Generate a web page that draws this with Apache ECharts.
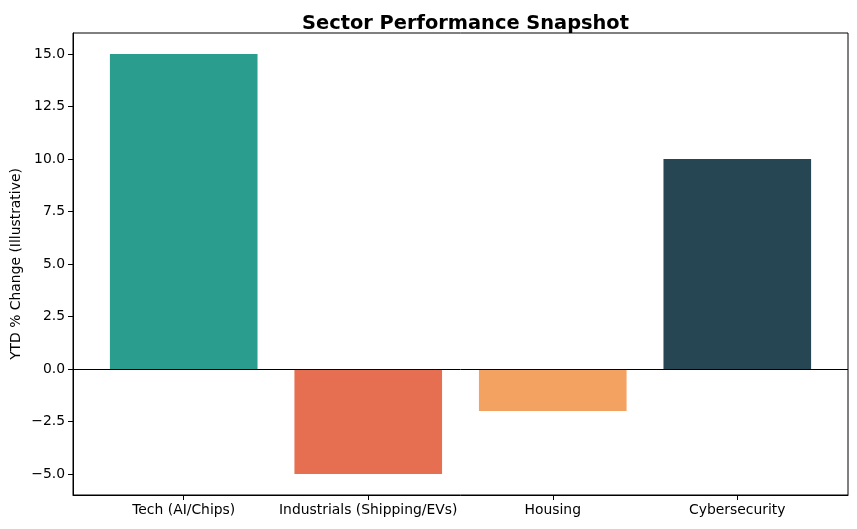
<!DOCTYPE html>
<html>
<head>
<meta charset="utf-8">
<script src="https://cdn.jsdelivr.net/npm/echarts@6/dist/echarts.min.js"></script>
<style>html,body{margin:0;padding:0;background:#fff}#c{width:857px;height:529px}</style>
</head>
<body>
<div id="c"></div>
<script>
const categories = ['Tech (AI/Chips)', 'Industrials (Shipping/EVs)', 'Housing', 'Cybersecurity'];
const values = [15, -5, -2, 10];
const colors = ['#2a9d8f', '#e76f51', '#f4a261', '#264653'];
const yTicks = [-5, -2.5, 0, 2.5, 5, 7.5, 10, 12.5, 15];
const xTicks = [0, 1, 2, 3];

const FONT = 'DejaVu Sans';
const chart = echarts.init(document.getElementById('c'), null, {renderer: 'canvas'});
const fmtY = v => v.toFixed(1).replace('-', '\u2212');

chart.setOption({
  animation: false,
  backgroundColor: '#fff',
  textStyle: {fontFamily: FONT},
  title: {
    text: 'Sector Performance Snapshot',
    left: 460.5, top: 9, textAlign: 'center',
    textStyle: {fontFamily: FONT, fontWeight: 'bold', fontSize: 19.4, color: '#000'}
  },
  grid: {left: 73, right: 9, top: 33, bottom: 34, show: true, borderColor: '#000', borderWidth: 1,
         backgroundColor: 'transparent', containLabel: false, outerBoundsMode: 'none'},
  xAxis: {
    type: 'value', min: -0.6, max: 3.6,
    splitLine: {show: false},
    axisLine: {show: true, onZero: false, lineStyle: {color: '#000', width: 1}},
    axisTick: {show: true, length: 5, customValues: xTicks, lineStyle: {color: '#000'}},
    axisLabel: {
      customValues: xTicks, margin: 8, color: '#000', fontSize: 13.9, fontFamily: FONT,
      formatter: v => categories[Math.round(v)] || ''
    }
  },
  yAxis: {
    type: 'value', min: -6, max: 16,
    name: 'YTD % Change (Illustrative)', nameLocation: 'middle', nameGap: 50, nameRotate: 90,
    nameMoveOverlap: false,
    nameTextStyle: {fontFamily: FONT, fontSize: 13.9, color: '#000'},
    splitLine: {show: false},
    axisLine: {show: true, onZero: false, lineStyle: {color: '#000', width: 1}},
    axisTick: {show: true, length: 5, customValues: yTicks, lineStyle: {color: '#000'}},
    axisLabel: {customValues: yTicks, margin: 8, color: '#000', fontSize: 13.9, fontFamily: FONT, formatter: fmtY}
  },
  series: [{
    type: 'bar',
    barWidth: '80%',
    data: values.map((v, i) => ({value: [xTicks[i], v], itemStyle: {color: colors[i]}})),
    markLine: {
      silent: true, symbol: 'none', label: {show: false},
      lineStyle: {color: '#000', width: 1, type: 'solid'},
      data: [{yAxis: 0}]
    }
  }]
});
</script>
</body>
</html>
